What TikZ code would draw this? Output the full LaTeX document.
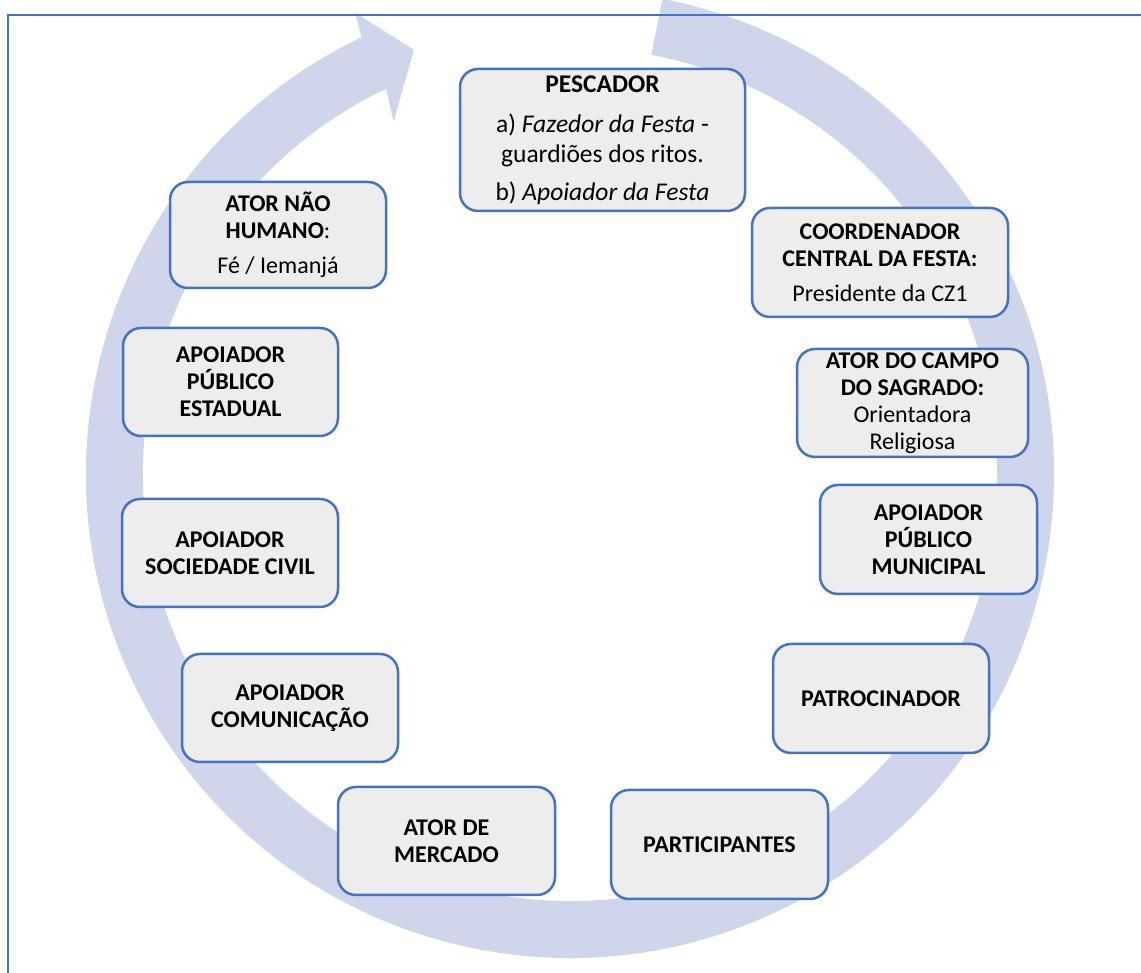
\documentclass[tikz,border=0pt]{standalone}
\usepackage{fontspec}
\setmainfont{Carlito}
\usetikzlibrary{calc}
\definecolor{ringcol}{RGB}{207,213,234}
\definecolor{boxline}{RGB}{68,114,196}
\definecolor{boxfill}{RGB}{237,237,237}
\begin{document}
\begin{tikzpicture}[x=1pt,y=1pt,
  actor/.style={draw=boxline, fill=boxfill, line width=2.5pt, rounded corners=18pt,
    align=center, inner sep=0pt, text=black, font=\fontsize{24}{27}\selectfont},
  framestyle/.style={draw=boxline, line width=2pt}
]
\useasboundingbox (0,0) rectangle (1141,973);
\begin{scope}
\clip (0,0) rectangle (1141,973);
\coordinate (c) at (570,499);
\fill[ringcol] ($(c)+(79:484)$) arc[start angle=79, end angle=-244.5, radius=484]
  -- ($(c)+(115:509)$) -- ($(c)+(110.2:452)$) -- ($(c)+(116.6:394)$)
  -- ($(c)+(115.5:427)$) arc[start angle=-244.5, end angle=79, radius=427] -- cycle;
\coordinate (fa) at (8,-10);
\coordinate (fb) at (8,958);
\coordinate (fc) at (1160,958);
\draw[framestyle] (fa) -- (fb) -- (fc);
\end{scope}

\node[actor, minimum width=285pt, minimum height=142pt, font=\fontsize{25.5}{30}\selectfont] (pescador) at (602.5,833)
  {\textbf{PESCADOR}\\[10pt] a) \textit{Fazedor da Festa} -\\ guardiões dos ritos.\\[8pt] b) \textit{Apoiador da Festa}};
\node[actor, minimum width=256pt, minimum height=109pt] (coord) at (880,710.5)
  {\textbf{COORDENADOR}\\ \textbf{CENTRAL DA FESTA:}\\[8pt] Presidente da CZ1};
\node[actor, minimum width=231pt, minimum height=108pt] (campo) at (912.5,570)
  {\textbf{ATOR DO CAMPO}\\ \textbf{DO SAGRADO:}\\ Orientadora\\ Religiosa};
\node[actor, minimum width=216pt, minimum height=106pt] (naohumano) at (278,738)
  {\textbf{ATOR NÃO}\\ \textbf{HUMANO}:\\[8pt] Fé / Iemanjá};
\node[actor, minimum width=215pt, minimum height=108pt] (estadual) at (230.5,591)
  {\textbf{APOIADOR}\\ \textbf{PÚBLICO}\\ \textbf{ESTADUAL}};
\node[actor, minimum width=216pt, minimum height=108pt] (civil) at (230,420)
  {\textbf{APOIADOR}\\ \textbf{SOCIEDADE CIVIL}};
\node[actor, minimum width=216pt, minimum height=108pt] (comunicacao) at (290,265)
  {\textbf{APOIADOR}\\ \textbf{COMUNICAÇÃO}};
\node[actor, minimum width=217pt, minimum height=108pt] (mercado) at (446.5,132)
  {\textbf{ATOR DE}\\ \textbf{MERCADO}};
\node[actor, minimum width=217pt, minimum height=109pt] (participantes) at (719.5,128.5)
  {\textbf{PARTICIPANTES}};
\node[actor, minimum width=216pt, minimum height=109pt] (patrocinador) at (881,274.5)
  {\textbf{PATROCINADOR}};
\node[actor, minimum width=217pt, minimum height=109pt] (municipal) at (928.5,433.5)
  {\textbf{APOIADOR}\\ \textbf{PÚBLICO}\\ \textbf{MUNICIPAL}};
\end{tikzpicture}
\end{document}
